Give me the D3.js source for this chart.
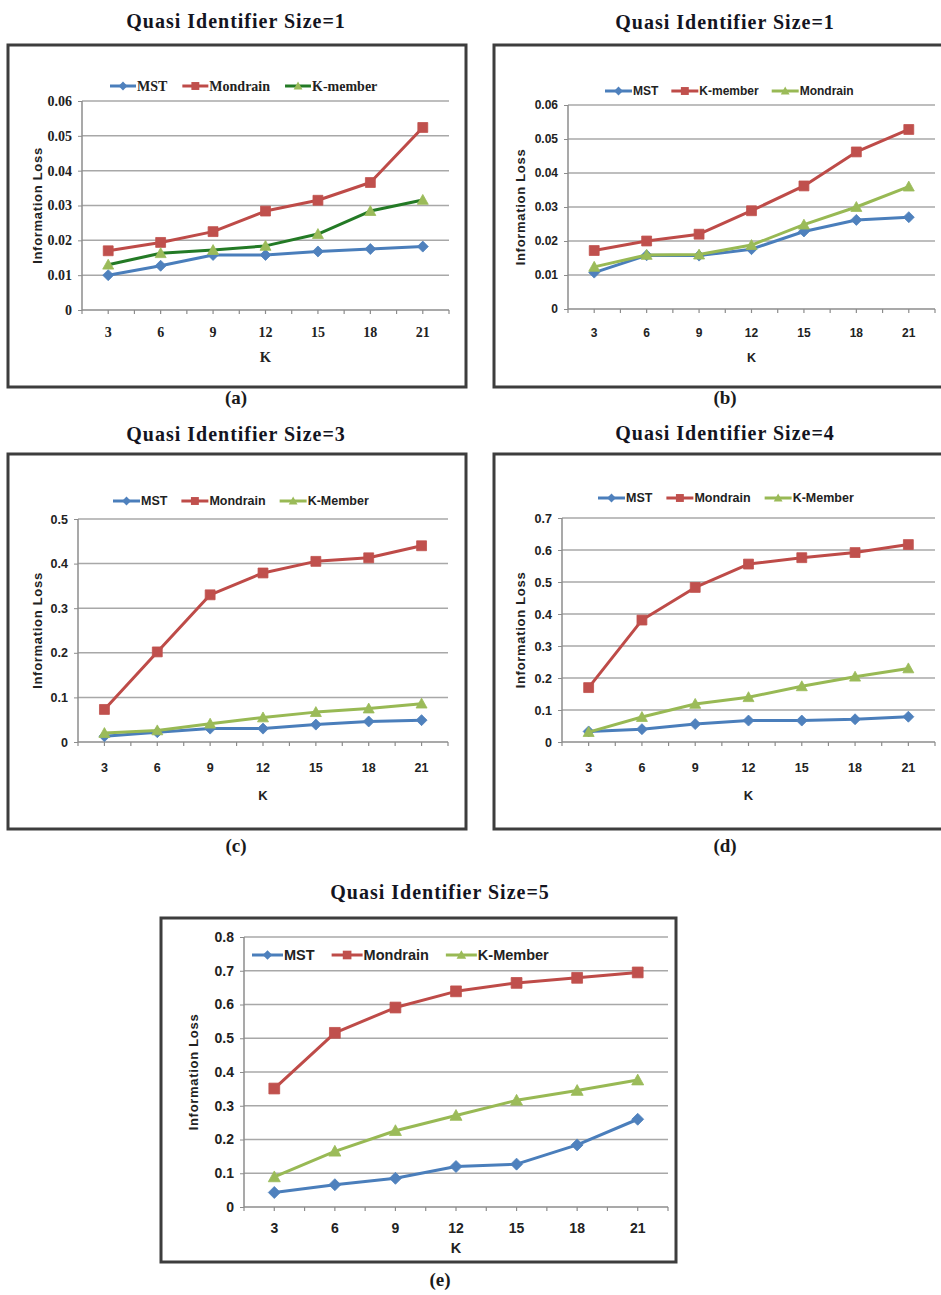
<!DOCTYPE html>
<html>
<head>
<meta charset="utf-8">
<script src="https://cdn.jsdelivr.net/npm/d3@7"></script>
<style>
  body { margin: 0; background: #fff; }
</style>
</head>
<body>
<div id="chart"></div>
<script>
// K values on the x axis (same for all five charts)
var kValues = [3, 6, 9, 12, 15, 18, 21];

var titles = ["Quasi Identifier Size=1", "Quasi Identifier Size=1", "Quasi Identifier Size=3",
              "Quasi Identifier Size=4", "Quasi Identifier Size=5"];
var captions = ["(a)", "(b)", "(c)", "(d)", "(e)"];

var legendA = ["MST", "Mondrain", "K-member"];
var legendB = ["MST", "K-member", "Mondrain"];
var legendCDE = ["MST", "Mondrain", "K-Member"];

var yTicksA = [0, 0.01, 0.02, 0.03, 0.04, 0.05, 0.06];
var yTicksC = [0, 0.1, 0.2, 0.3, 0.4, 0.5];
var yTicksD = [0, 0.1, 0.2, 0.3, 0.4, 0.5, 0.6, 0.7];
var yTicksE = [0, 0.1, 0.2, 0.3, 0.4, 0.5, 0.6, 0.7, 0.8];

// (a)
var mstA      = [0.0100, 0.0127, 0.0158, 0.0158, 0.0168, 0.0175, 0.0182];
var mondrainA = [0.0170, 0.0194, 0.0225, 0.0284, 0.0315, 0.0366, 0.0524];
var kmemberA  = [0.0130, 0.0163, 0.0172, 0.0184, 0.0218, 0.0284, 0.0316];
// (b)
var mstB      = [0.0107, 0.0158, 0.0157, 0.0176, 0.0228, 0.0262, 0.0270];
var kmemberB  = [0.0172, 0.0200, 0.0220, 0.0289, 0.0362, 0.0462, 0.0528];
var mondrainB = [0.0124, 0.0159, 0.0160, 0.0188, 0.0248, 0.0300, 0.0360];
// (c)
var mstC      = [0.013, 0.022, 0.030, 0.030, 0.039, 0.046, 0.049];
var mondrainC = [0.073, 0.202, 0.330, 0.379, 0.405, 0.413, 0.440];
var kmemberC  = [0.020, 0.026, 0.041, 0.055, 0.067, 0.075, 0.086];
// (d)
var mstD      = [0.033, 0.040, 0.056, 0.067, 0.067, 0.071, 0.079];
var mondrainD = [0.170, 0.381, 0.483, 0.556, 0.576, 0.592, 0.617];
var kmemberD  = [0.031, 0.078, 0.119, 0.140, 0.174, 0.204, 0.230];
// (e)
var mstE      = [0.043, 0.066, 0.085, 0.120, 0.127, 0.184, 0.260];
var mondrainE = [0.351, 0.516, 0.591, 0.639, 0.664, 0.679, 0.695];
var kmemberE  = [0.089, 0.165, 0.226, 0.271, 0.316, 0.345, 0.376];

var styles = {
  blue:      { line: "#4a7ebb", fill: "#4f81bd", marker: "diamond" },
  red:       { line: "#be4b48", fill: "#c0504d", marker: "square" },
  green:     { line: "#98b954", fill: "#9bbb59", marker: "triangle" },
  darkgreen: { line: "#237a25", fill: "#9bbb59", marker: "triangle" }
};

var SERIF = "'Liberation Serif', 'Times New Roman', serif";
var SANS = "'Liberation Sans', Arial, sans-serif";

var panels = [
  { title: titles[0], caption: captions[0], ticks: yTicksA, fmt: ".2f", font: SERIF, fs: 14, lfs: 14,
    series: [[legendA[0], mstA, "blue"], [legendA[1], mondrainA, "red"], [legendA[2], kmemberA, "darkgreen"]],
    frame: [8, 45, 466, 387], plot: [82, 449, 101, 310], legend: [110, 86, 26, 15], msize: 11,
    cx: 236, titleY: 28, captionY: 404, xlabY: 337, kY: 362, ylabX: 37.5 },
  { title: titles[1], caption: captions[1], ticks: yTicksA, fmt: ".2f", font: SANS, fs: 12, lfs: 12,
    series: [[legendB[0], mstB, "blue"], [legendB[1], kmemberB, "red"], [legendB[2], mondrainB, "green"]],
    frame: [494, 45, 948, 387], plot: [568, 935, 105, 309], legend: [605, 91, 27, 13], msize: 11,
    cx: 725, titleY: 29, captionY: 404, xlabY: 337, kY: 362, ylabX: 520 },
  { title: titles[2], caption: captions[2], ticks: yTicksC, fmt: ".1f", font: SANS, fs: 12.5, lfs: 12.5,
    series: [[legendCDE[0], mstC, "blue"], [legendCDE[1], mondrainC, "red"], [legendCDE[2], kmemberC, "green"]],
    frame: [8, 454, 466, 829], plot: [78, 448, 519, 742], legend: [113, 501, 27, 14], msize: 11,
    cx: 236, titleY: 441, captionY: 852, xlabY: 772, kY: 800, ylabX: 37 },
  { title: titles[3], caption: captions[3], ticks: yTicksD, fmt: ".1f", font: SANS, fs: 12.5, lfs: 12.5,
    series: [[legendCDE[0], mstD, "blue"], [legendCDE[1], mondrainD, "red"], [legendCDE[2], kmemberD, "green"]],
    frame: [494, 454, 948, 829], plot: [562, 935, 518, 742], legend: [598, 498, 27, 14], msize: 11,
    cx: 725, titleY: 440, captionY: 852, xlabY: 772, kY: 800, ylabX: 520 },
  { title: titles[4], caption: captions[4], ticks: yTicksE, fmt: ".1f", font: SANS, fs: 14, lfs: 14.5,
    series: [[legendCDE[0], mstE, "blue"], [legendCDE[1], mondrainE, "red"], [legendCDE[2], kmemberE, "green"]],
    frame: [161, 918, 676, 1262], plot: [244, 668, 937, 1207], legend: [252, 955, 31, 17], msize: 12,
    cx: 440, titleY: 899, captionY: 1286, xlabY: 1233, kY: 1253, ylabX: 193 }
];

var svg = d3.select("#chart").append("svg")
  .attr("width", 941).attr("height", 1295)
  .attr("xmlns", "http://www.w3.org/2000/svg");

function markerPath(type, s) {
  var h = s / 2;
  if (type == "diamond") return "M0," + (-h) + "L" + h + ",0L0," + h + "L" + (-h) + ",0Z";
  if (type == "square") { h = h * 0.9; return "M" + (-h) + "," + (-h) + "H" + h + "V" + h + "H" + (-h) + "Z"; }
  return "M0," + (-h) + "L" + h + "," + (h * 0.8) + "L" + (-h) + "," + (h * 0.8) + "Z";
}

panels.forEach(function (p) {
  var g = svg.append("g");
  var x0 = p.plot[0], x1 = p.plot[1], top = p.plot[2], bottom = p.plot[3];

  // title + caption
  g.append("text").attr("x", p.cx).attr("y", p.titleY).attr("text-anchor", "middle")
    .style("font-family", SERIF).style("font-weight", "bold").style("font-size", "20px")
    .style("letter-spacing", "1px").style("fill", "#141421").text(p.title);
  g.append("text").attr("x", p.cx).attr("y", p.captionY).attr("text-anchor", "middle")
    .style("font-family", SERIF).style("font-weight", "bold").style("font-size", "19px")
    .style("fill", "#1a1a1a").text(p.caption);

  // frame
  g.append("rect").attr("x", p.frame[0]).attr("y", p.frame[1])
    .attr("width", p.frame[2] - p.frame[0]).attr("height", p.frame[3] - p.frame[1])
    .style("fill", "none").style("stroke", "#3d3d3d").style("stroke-width", 3);

  var x = d3.scaleBand().domain(kValues).range([x0, x1]);
  var y = d3.scaleLinear().domain([0, d3.max(p.ticks)]).range([bottom, top]);
  var cx = function (k) { return x(k) + x.bandwidth() / 2; };

  // gridlines
  g.append("g").selectAll("line").data(p.ticks.slice(1)).enter().append("line")
    .attr("x1", x0).attr("x2", x1).attr("y1", function (d) { return y(d); }).attr("y2", function (d) { return y(d); })
    .style("stroke", "#a8a8a8").style("stroke-width", 1.5);

  // y axis
  var fmt = d3.format(p.fmt);
  var ya = g.append("g").attr("transform", "translate(" + x0 + ",0)")
    .call(d3.axisLeft(y).tickValues(p.ticks).tickSize(4).tickPadding(6)
      .tickFormat(function (d) { return d === 0 ? "0" : fmt(d); }));
  ya.select(".domain").attr("d", "M0," + top + "V" + bottom).style("stroke", "#8c8c8c").style("stroke-width", 1.5);
  ya.selectAll(".tick line").style("stroke", "#8c8c8c");
  ya.selectAll("text").style("font-family", p.font).style("font-weight", "bold")
    .style("font-size", p.fs + "px").style("fill", "#222");

  // x axis
  var xa = g.append("g").attr("transform", "translate(0," + bottom + ")")
    .call(d3.axisBottom(x).tickSize(0).tickPadding(p.xlabY - bottom - 0.71 * p.fs));
  xa.select(".domain").attr("d", "M" + x0 + ",0H" + x1).style("stroke", "#8c8c8c").style("stroke-width", 1.5);
  xa.selectAll("text").style("font-family", p.font).style("font-weight", "bold")
    .style("font-size", p.fs + "px").style("fill", "#222");
  // small ticks at band edges and centres
  xa.append("g").selectAll("line").data(d3.range(kValues.length * 2 + 1)).enter().append("line")
    .attr("x1", function (i) { return x0 + i * x.step() / 2; })
    .attr("x2", function (i) { return x0 + i * x.step() / 2; })
    .attr("y1", 0).attr("y2", 4).style("stroke", "#8c8c8c").style("stroke-width", 1.2);

  // axis titles
  g.append("text").attr("x", (x0 + x1) / 2).attr("y", p.kY).attr("text-anchor", "middle")
    .style("font-family", p.font).style("font-weight", "bold").style("font-size", (p.fs + 0.5) + "px")
    .style("fill", "#222").text("K");
  g.append("text").attr("transform", "translate(" + p.ylabX + "," + ((top + bottom) / 2) + ") rotate(-90)")
    .attr("text-anchor", "middle").attr("dominant-baseline", "central")
    .style("font-family", SANS).style("font-weight", "bold").style("font-size", "13px")
    .style("letter-spacing", "0.7px").style("fill", "#222").text("Information Loss");

  // series
  var line = d3.line().x(function (d, i) { return cx(kValues[i]); }).y(function (d) { return y(d); });
  p.series.forEach(function (s) {
    var st = styles[s[2]];
    g.append("path").datum(s[1]).attr("d", line)
      .style("fill", "none").style("stroke", st.line).style("stroke-width", 3)
      .style("stroke-linejoin", "round");
    g.append("g").selectAll("path").data(s[1]).enter().append("path")
      .attr("transform", function (d, i) { return "translate(" + cx(kValues[i]) + "," + y(d) + ")"; })
      .attr("d", markerPath(st.marker, p.msize))
      .style("fill", st.fill).style("stroke", st.fill).style("stroke-width", 0.8);
  });

  // legend
  var lx = p.legend[0], ly = p.legend[1], len = p.legend[2], gap = p.legend[3];
  p.series.forEach(function (s) {
    var st = styles[s[2]];
    g.append("line").attr("x1", lx).attr("x2", lx + len).attr("y1", ly).attr("y2", ly)
      .style("stroke", st.line).style("stroke-width", 3);
    g.append("path").attr("transform", "translate(" + (lx + len / 2) + "," + ly + ")")
      .attr("d", markerPath(st.marker, p.msize * 0.8)).style("fill", st.fill);
    var t = g.append("text").attr("x", lx + len + 1).attr("y", ly).attr("dy", "0.35em")
      .style("font-family", p.font).style("font-weight", "bold").style("font-size", p.lfs + "px")
      .style("fill", "#222").text(s[0]);
    lx += len + 1 + t.node().getComputedTextLength() + gap;
  });
});
</script>
</body>
</html>
